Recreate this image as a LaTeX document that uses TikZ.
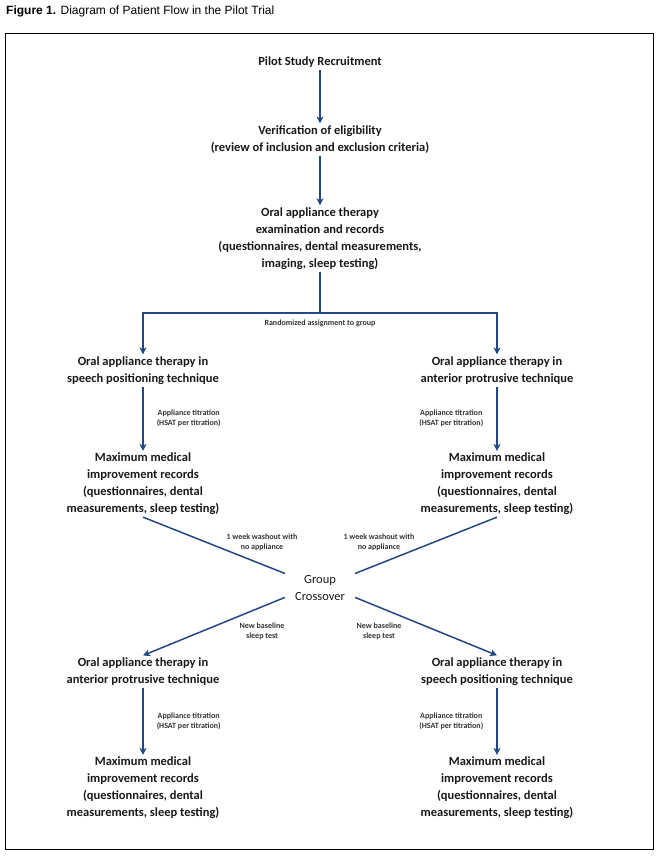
\documentclass[tikz,border=0pt]{standalone}
\usepackage{fontspec}
\setmainfont{Carlito}
\newfontfamily\captionfont{Liberation Sans}
\usetikzlibrary{arrows.meta}
\definecolor{flowblue}{RGB}{36,70,130}
\tikzstyle{box}=[align=center, inner sep=2pt, text=black!90, font=\bfseries\fontsize{12.5}{17}\selectfont]
\tikzstyle{plain}=[align=center, inner ysep=2pt, inner xsep=10pt, text=black!90, font=\fontsize{12.5}{16.5}\selectfont]
\tikzstyle{note}=[align=center, inner sep=1pt, text=black!80, font=\bfseries\fontsize{8}{10}\selectfont]
\tikzstyle{edge}=[draw=flowblue, line width=1.5pt, -{Stealth[length=7pt, width=7pt, inset=2pt]}]
\tikzstyle{link}=[draw=flowblue, line width=1.5pt, -]

\begin{document}
\begin{tikzpicture}[x=1pt, y=-1pt]
	\useasboundingbox (0,0) rectangle (661,856);
	\draw (6,15) node[anchor=base west, inner sep=0pt, font=\captionfont\fontsize{12}{14}\selectfont] (caption) {\textbf{Figure 1.} Diagram of Patient Flow in the Pilot Trial};
	\draw[line width=1pt] (5,34) rectangle (653,849);
	%
	\draw (320,62) node[box] (recruit) {Pilot Study Recruitment};
	\draw (320,139.5) node[box] (verify) {Verification of eligibility\\(review of inclusion and exclusion criteria)};
	\draw (320,238.5) node[box] (exam) {Oral appliance therapy\\examination and records\\(questionnaires, dental measurements,\\imaging, sleep testing)};
	\coordinate (split) at (320,313);
	\draw (320,323) node[note] (rand) {Randomized assignment to group};
	%
	\draw (143,370.5) node[box] (speechA) {Oral appliance therapy in\\speech positioning technique};
	\draw (497,370.5) node[box] (antA) {Oral appliance therapy in\\anterior protrusive technique};
	\draw (143,484) node[box] (mmiA) {Maximum medical\\improvement records\\(questionnaires, dental\\measurements, sleep testing)};
	\draw (497,484) node[box] (mmiB) {Maximum medical\\improvement records\\(questionnaires, dental\\measurements, sleep testing)};
	%
	\draw (320,588) node[plain] (cross) {Group\\Crossover};
	\draw (262,542) node[note] (washA) {1 week washout with\\no appliance};
	\draw (379,542) node[note] (washB) {1 week washout with\\no appliance};
	\draw (262,631) node[note] (baseA) {New baseline\\sleep test};
	\draw (379,631) node[note] (baseB) {New baseline\\sleep test};
	%
	\draw (143,671.5) node[box] (antB) {Oral appliance therapy in\\anterior protrusive technique};
	\draw (497,671.5) node[box] (speechB) {Oral appliance therapy in\\speech positioning technique};
	\draw (143,788) node[box] (mmiC) {Maximum medical\\improvement records\\(questionnaires, dental\\measurements, sleep testing)};
	\draw (497,788) node[box] (mmiD) {Maximum medical\\improvement records\\(questionnaires, dental\\measurements, sleep testing)};
	%
	\draw[edge] (recruit) -- (verify);
	\draw[edge] (verify) -- (exam);
	\draw[edge] (exam) -- (split) -| (speechA);
	\draw[edge] (split) -| (antA);
	\draw[edge] (speechA) -- (mmiA) node[note, midway, right=12pt] {Appliance titration\\(HSAT per titration)};
	\draw[edge] (antA) -- (mmiB) node[note, midway, left=12pt] {Appliance titration\\(HSAT per titration)};
	\draw[link] (mmiA.south) -- (cross.north west);
	\draw[link] (mmiB.south) -- (cross.north east);
	\draw[edge] (cross.195) -- (antB.north);
	\draw[edge] (cross.-15) -- (speechB.north);
	\draw[edge] (antB) -- (mmiC) node[note, midway, right=12pt] {Appliance titration\\(HSAT per titration)};
	\draw[edge] (speechB) -- (mmiD) node[note, midway, left=12pt] {Appliance titration\\(HSAT per titration)};
\end{tikzpicture}
\end{document}
